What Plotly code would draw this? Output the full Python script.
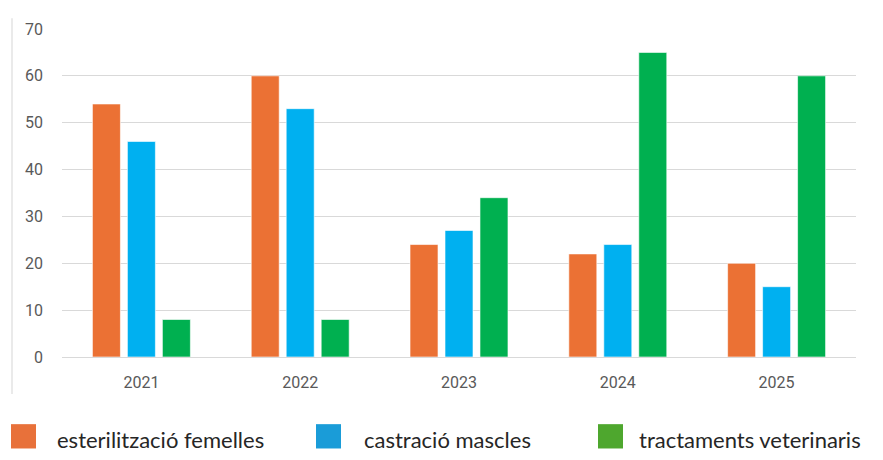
import plotly.graph_objects as go

years = ["2021", "2022", "2023", "2024", "2025"]
esterilitzacio = [54, 60, 24, 22, 20]
castracio = [46, 53, 27, 24, 15]
tractaments = [8, 8, 34, 65, 60]
series_names = ["esterilització femelles", "castració mascles", "tractaments veterinaris"]
bar_colors = ["#EB7134", "#00B0F0", "#00B050"]
legend_colors = ["#E8713A", "#1A9CD8", "#4EA72E"]

OFF = 8  # page body margin
W, H = 883 - OFF, 460 - OFF
# plot area in page pixels: x 62..856, y 20..357
L, T = 62 - OFF, 20 - OFF
R = W - (856 - OFF)
B = H - (357 - OFF)
pw, ph = W - L - R, H - T - B

def px(x):
    return (x - OFF - L) / pw

def py(y):
    return (H - B - (y - OFF)) / ph

fig = go.Figure()
for name, vals, col in zip(series_names, [esterilitzacio, castracio, tractaments], bar_colors):
    fig.add_trace(go.Bar(x=years, y=vals, name=name,
                         marker=dict(color=col, line=dict(color="rgba(255,255,255,0.6)", width=1)),
                         showlegend=False))

shapes = []
shapes.append(dict(type="line", xref="paper", yref="paper", x0=px(12), x1=px(12), y0=py(9), y1=py(395),
                   line=dict(color="#E3E3E3", width=1.5)))
shapes.append(dict(type="line", xref="paper", yref="paper", x0=px(878), x1=px(878), y0=py(10), y1=py(395),
                   line=dict(color="#E3E3E3", width=1.5)))

annotations = []
legend_pos = [(11, 55), (316, 362), (598, 637)]
for (sx, tx), name, col in zip(legend_pos, series_names, legend_colors):
    shapes.append(dict(type="rect", xref="paper", yref="paper", x0=px(sx), x1=px(sx + 25), y0=py(426), y1=py(451),
                       fillcolor=col, line=dict(width=0)))
    annotations.append(dict(text=name, xref="paper", yref="paper", x=px(tx), y=py(442), xanchor="left",
                            yanchor="middle", showarrow=False,
                            font=dict(family="Lato, Liberation Sans, sans-serif", size=22, color="#262626")))

fig.update_layout(
    width=W, height=H,
    margin=dict(l=L, r=R, t=T, b=B),
    paper_bgcolor="white", plot_bgcolor="white",
    barmode="group", bargap=0.339, bargroupgap=0.2,
    shapes=shapes, annotations=annotations,
    font=dict(family="Roboto, Liberation Sans, Arial, sans-serif", color="#595959"),
)
fig.update_yaxes(range=[0, 70], dtick=10, showgrid=True, gridcolor="#D9D9D9", gridwidth=1,
                 zeroline=True, zerolinecolor="#D9D9D9", zerolinewidth=1, showline=False,
                 tickfont=dict(size=16, color="#595959"), ticklabelstandoff=18, fixedrange=True)
fig.update_xaxes(showgrid=False, showline=False, tickfont=dict(size=16, color="#595959"), ticklabelstandoff=14)

fig.write_html("out.html")
